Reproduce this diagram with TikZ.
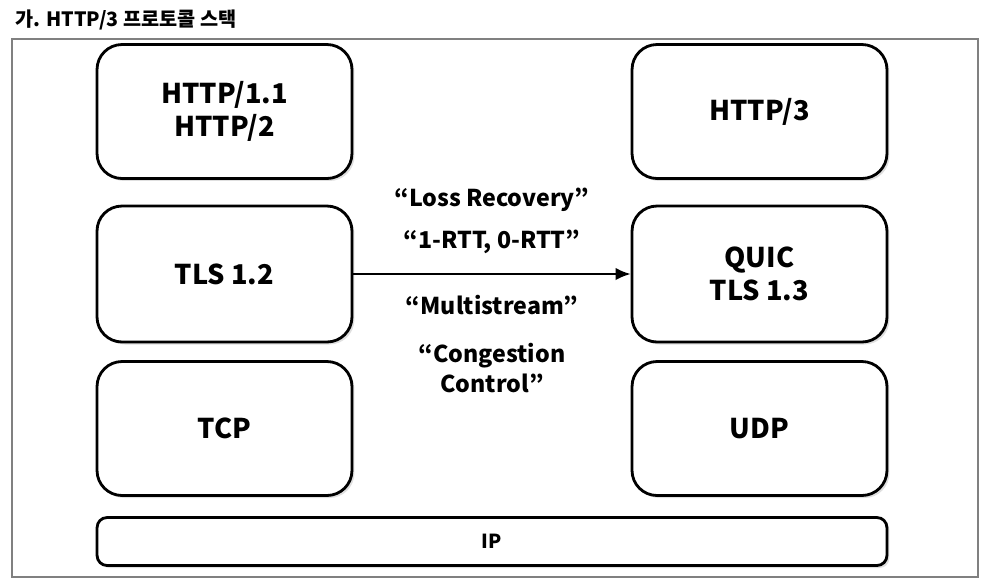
\documentclass[tikz,border=0pt]{standalone}
\usepackage{fontspec}
\setmainfont{Noto Sans CJK KR}
\usetikzlibrary{shadows,arrows.meta}

\begin{document}
\begin{tikzpicture}[x=0.02cm, y=-0.02cm,
  layer/.style={draw, line width=1.6pt, rounded corners=0.5cm, fill=white,
    minimum width=5.1cm, minimum height=2.68cm, align=center,
    font=\bfseries\fontsize{15.5}{19}\selectfont,
    drop shadow={opacity=0.25, shadow xshift=0.05cm, shadow yshift=-0.05cm}},
  note/.style={font=\bfseries\fontsize{13.2}{17.5}\selectfont, align=center}]

\useasboundingbox (0,0) rectangle (1000,583);

\node [anchor=west, font=\bfseries\fontsize{11.2}{13}\selectfont] (title) at (9,20) {가. HTTP/3 프로토콜 스택};
\draw [gray, line width=0.6pt] (12,39) rectangle (978,577);

%%%%%%%%%%%%%%%%%%%%%%%%%%%%%%%%%%%%%%%%%%%%%%%%%%%%%%%%%%%%%%%%%%%%%%%%%%%%%%%%%%%
\node [layer] (http) at (224.5,111.5) {HTTP/1.1\\HTTP/2};
\node [layer, minimum height=2.72cm] (tls) at (224.5,274) {TLS 1.2};
\node [layer] (tcp) at (224.5,428.5) {TCP};

\node [layer] (http3) at (759.5,111.5) {HTTP/3};
\node [layer, minimum height=2.72cm] (quic) at (759.5,274) {QUIC\\TLS 1.3};
\node [layer] (udp) at (759.5,428.5) {UDP};

\node [layer, minimum width=15.8cm, minimum height=0.96cm, rounded corners=0.2cm,
  font=\bfseries\fontsize{11}{13}\selectfont] (ip) at (492,541.5) {IP};
%%%%%%%%%%%%%%%%%%%%%%%%%%%%%%%%%%%%%%%%%%%%%%%%%%%%%%%%%%%%%%%%%%%%%%%%%%%%%%%%%%

\draw [line width=1.2pt, -{Latex[length=0.3cm, width=0.25cm]}] (tls.east) to (quic.west);
\node [note] (loss) at (492,200) {“Loss Recovery”};
\node [note] (rtt) at (492,242) {“1-RTT, 0-RTT”};
\node [note] (multi) at (492,305) {“Multistream”};
\node [note] (cong) at (492,368) {“Congestion\\Control”};

\end{tikzpicture}
\end{document}
